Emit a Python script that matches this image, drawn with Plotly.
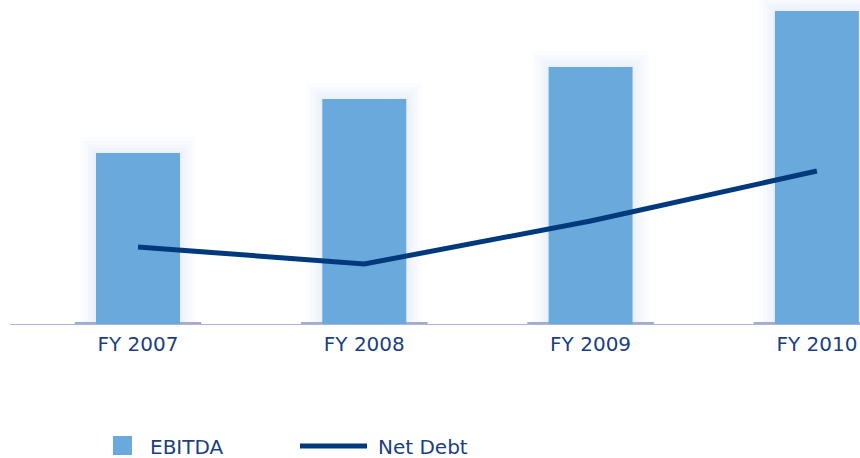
import plotly.graph_objects as go

categories = ["FY 2007", "FY 2008", "FY 2009", "FY 2010"]
ebitda = [171, 225, 257, 313]
net_debt = [77, 60, 103, 153]

BAR_COLOR = "#6aa9dc"
LINE_COLOR = "#003a7d"
TEXT_COLOR = "#1b4080"
AXIS_COLOR = "#aab4d9"
FONT = "DejaVu Sans"

xs = list(range(len(categories)))
bar_w = 0.371
px = 1 / 226.3  # one pixel in category units

fig = go.Figure()

# soft glow layers behind bars
for k in [16, 12, 8, 5, 2]:
    fig.add_trace(go.Bar(
        x=xs, y=[v + k for v in ebitda], width=bar_w + 2 * k * px,
        marker=dict(color="rgba(170,190,230,0.045)", line=dict(width=0)),
        showlegend=False, hoverinfo="skip"))

# darker baseline segments under bars
fig.add_trace(go.Bar(
    x=xs, y=[2] * len(xs), width=0.56,
    marker=dict(color="#a3abd0", line=dict(width=0)),
    showlegend=False, hoverinfo="skip"))

fig.add_trace(go.Bar(
    x=xs, y=ebitda, width=bar_w, name="EBITDA",
    marker=dict(color=BAR_COLOR, line=dict(width=0)),
    showlegend=False))

fig.add_trace(go.Scatter(
    x=xs, y=net_debt, mode="lines", name="Net Debt",
    line=dict(color=LINE_COLOR, width=5),
    showlegend=False))

# custom legend
fig.add_shape(type="rect", xref="paper", yref="paper",
              x0=(113 - 10) / 850, x1=(132 - 10) / 850,
              y0=(324 - 455) / 324, y1=(324 - 436) / 324,
              fillcolor=BAR_COLOR, line=dict(width=0))
fig.add_annotation(text="EBITDA", xref="paper", yref="paper",
                   x=(148 - 10) / 850, y=(324 - 447) / 324,
                   xanchor="left", yanchor="middle", showarrow=False,
                   font=dict(family=FONT, size=20, color=TEXT_COLOR))
fig.add_shape(type="line", xref="paper", yref="paper",
              x0=(300 - 10) / 850, x1=(367 - 10) / 850,
              y0=(324 - 446) / 324, y1=(324 - 446) / 324,
              line=dict(color=LINE_COLOR, width=5))
fig.add_annotation(text="Net Debt", xref="paper", yref="paper",
                   x=(376 - 10) / 850, y=(324 - 447) / 324,
                   xanchor="left", yanchor="middle", showarrow=False,
                   font=dict(family=FONT, size=20, color=TEXT_COLOR))

fig.update_layout(
    width=860, height=458,
    margin=dict(l=10, r=0, t=0, b=134),
    barmode="overlay",
    plot_bgcolor="white", paper_bgcolor="white",
    font=dict(family=FONT, size=20, color=TEXT_COLOR),
    showlegend=False,
)
fig.update_xaxes(
    range=[-128 * px, 722 * px],
    tickmode="array", tickvals=xs, ticktext=categories,
    showgrid=False, zeroline=False,
    showline=True, linecolor=AXIS_COLOR, linewidth=1,
    ticks="outside", ticklen=2, tickcolor="rgba(0,0,0,0)",
    tickfont=dict(family=FONT, size=20, color=TEXT_COLOR),
)
fig.update_yaxes(range=[0, 324], visible=False, showgrid=False, zeroline=False)

fig.write_html("out.html")
